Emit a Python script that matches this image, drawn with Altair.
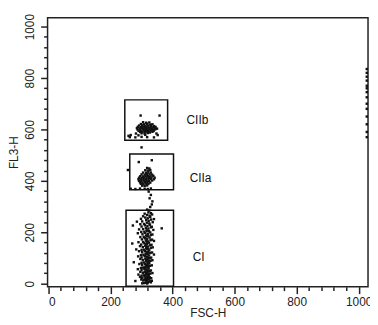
import altair as alt
import pandas as pd

# CIIb cluster
b_x = [305,315,325,
       298,308,318,328,335,
       292,302,312,320,330,340,
       288,298,306,314,322,330,338,345,
       285,294,302,310,318,326,334,342,350,
       287,296,304,312,320,328,336,344,
       290,299,307,315,323,331,339,
       295,303,311,319,327,335,
       282,300,310,320,348,
       265,290,312,352,
       262,280,300,318,340,
       297,358,300,258]
b_y = [628,626,627,
       621,620,622,619,620,
       615,616,614,615,616,613,
       610,609,611,610,608,611,609,610,
       605,604,606,605,603,606,604,605,603,
       600,599,601,600,598,601,599,600,
       595,594,596,595,593,596,594,
       590,589,591,590,588,591,
       584,585,583,586,584,
       578,577,579,578,
       570,569,571,570,569,
       654,654,530,575]
# CIIa cluster
a_x = [318,325,
       312,320,328,
       305,315,322,330,
       300,310,318,326,334,
       296,305,313,320,328,338,
       292,300,308,316,324,332,342,
       290,298,306,314,322,330,340,
       292,300,308,316,324,334,
       295,303,311,319,328,
       298,306,314,322,
       302,310,318,
       265,280,295,310,320,330,
       291,333,256,
       323,330,326,335,333,328]
a_y = [450,448,
       441,440,442,
       432,431,433,432,
       425,424,426,425,424,
       418,417,419,418,417,419,
       412,411,413,412,411,413,412,
       406,405,407,406,405,407,406,
       400,399,401,400,399,401,
       394,393,395,394,393,
       388,387,389,388,
       381,380,382,
       369,368,370,369,368,370,
       473,480,442,
       358,345,332,320,308,298]
# CI population
c_x = [325,318,
       310,322,330,
       305,318,326,334,
       298,312,320,328,340,
       302,315,323,331,285,
       308,317,325,336,296,
       300,311,319,327,333,272,
       305,314,322,330,292,365,
       309,316,324,338,299,318,
       303,312,320,328,335,288,
       307,315,322,330,296,318,
       301,310,318,326,334,313,
       305,314,321,329,290,340,318,
       299,309,317,324,332,270,314,
       304,312,320,327,336,295,316,
       308,315,322,330,300,318,283,
       302,311,318,325,334,292,321,
       306,313,320,328,298,316,340,
       300,310,317,324,331,289,319,312,
       304,312,319,326,335,296,315,322,
       307,314,321,329,300,318,275,325,
       302,311,318,325,333,293,316,321,
       305,313,320,327,298,317,310,323,
       300,309,316,323,330,288,319,313,
       304,312,319,326,335,296,315,321,310,
       307,314,320,328,300,317,311,324,290,
       302,310,317,323,331,295,315,320,326,
       305,312,318,325,333,299,314,321,309,280,
       308,315,320,327,302,317,312,323,330,318]
c_y = [284,288,
       272,277,274,
       262,267,264,269,
       252,257,254,259,251,
       242,247,244,249,241,
       232,237,234,239,231,
       222,227,224,229,221,226,
       212,217,214,219,211,215,
       202,207,204,209,201,206,
       192,197,194,199,191,196,
       182,187,184,189,181,186,
       172,177,174,179,171,176,
       162,167,164,169,161,166,163,
       152,157,154,159,151,156,153,
       142,147,144,149,141,146,143,
       132,137,134,139,131,136,133,
       122,127,124,129,121,126,123,
       112,117,114,119,111,116,113,
       102,107,104,109,101,106,103,108,
       92,97,94,99,91,96,93,98,
       82,87,84,89,81,86,83,88,
       72,77,74,79,71,76,73,78,
       62,67,64,69,61,66,63,68,
       52,57,54,59,51,56,53,58,
       42,47,44,49,41,46,43,48,45,
       32,37,34,39,31,36,33,38,35,
       22,27,24,29,21,26,23,28,25,
       12,17,14,19,11,16,13,18,15,10,
       2,7,4,9,1,6,3,8,5,0]
# events piled at the right edge
e_x = [1026]*14
e_y = [835,820,805,790,770,760,745,725,700,680,650,620,590,570]

gate_names = ["CIIb", "CIIa", "CI"]
gate_x1 = [246, 262, 250]
gate_x2 = [384, 403, 403]
gate_y1 = [558, 365, -10]
gate_y2 = [715, 504, 285]
label_x = [480, 490, 484]
label_y = [635, 412, 104]

major_ticks = [0, 200, 400, 600, 800, 1000]
minor_ticks = [40, 80, 120, 160, 240, 280, 320, 360, 440, 480, 520, 560,
               640, 680, 720, 760, 840, 880, 920, 960]

pts = pd.DataFrame({"x": b_x + a_x + c_x + e_x, "y": b_y + a_y + c_y + e_y})
gates = pd.DataFrame({"name": gate_names, "x1": gate_x1, "x2": gate_x2, "y1": gate_y1, "y2": gate_y2})
labels = pd.DataFrame({"name": gate_names, "x": label_x, "y": label_y})

xs = alt.Scale(domain=[-3, 1030], nice=False, zero=False)
ys = alt.Scale(domain=[-12, 1035], nice=False, zero=False)

font = "Liberation Sans"

x_major = alt.Axis(orient="bottom", values=major_ticks, format="d", title="FSC-H", grid=False, domain=False,
                   tickSize=7, tickWidth=1.5, tickColor="#222", labelFontSize=12, labelColor="#222",
                   labelFont=font, titleFont=font, titleFontSize=12, titleFontWeight="normal",
                   titleColor="#222", labelPadding=3, titlePadding=0)
y_major = alt.Axis(orient="left", values=major_ticks, format="d", title="FL3-H", grid=False, domain=False,
                   tickSize=7, tickWidth=1.5, tickColor="#222", labelFontSize=12, labelColor="#222",
                   labelAngle=270, labelAlign="center", labelBaseline="bottom", labelPadding=4,
                   labelFont=font, titleFont=font, titleFontSize=12, titleFontWeight="normal",
                   titleColor="#222", titleX=-27, titleY=136)

points = alt.Chart(pts).mark_square(size=6, color="#111", opacity=1).encode(
    x=alt.X("x:Q", scale=xs, axis=x_major),
    y=alt.Y("y:Q", scale=ys, axis=y_major),
)

x_minor = alt.Axis(orient="bottom", values=minor_ticks, labels=False, title=None, grid=False,
                   domain=False, tickSize=4, tickWidth=1.5, tickColor="#222")
y_minor = alt.Axis(orient="left", values=minor_ticks, labels=False, title=None, grid=False,
                   domain=False, tickSize=4, tickWidth=1.5, tickColor="#222")
minor = alt.Chart(pd.DataFrame({"x": [0], "y": [0]})).mark_point(opacity=0).encode(
    x=alt.X("x:Q", scale=xs, axis=x_minor),
    y=alt.Y("y:Q", scale=ys, axis=y_minor),
)

boxes = alt.Chart(gates).mark_rect(fillOpacity=0, stroke="#111", strokeWidth=1.5).encode(
    x=alt.X("x1:Q", scale=xs, axis=None), x2="x2:Q",
    y=alt.Y("y1:Q", scale=ys, axis=None), y2="y2:Q",
)

texts = alt.Chart(labels).mark_text(font=font, fontSize=12, color="#111").encode(
    x=alt.X("x:Q", scale=xs, axis=None),
    y=alt.Y("y:Q", scale=ys, axis=None),
    text="name:N",
)

chart = alt.layer(points, minor, boxes, texts).resolve_axis(
    x="independent", y="independent"
).properties(
    width=324, height=272,
    autosize=alt.AutoSizeParams(type="none"),
    padding={"left": 40, "top": 8, "right": 2, "bottom": 37},
).configure(background="white").configure_view(stroke="#222", strokeWidth=1.5)

chart.save("out.html", embed_options={"renderer": "svg", "actions": False})
